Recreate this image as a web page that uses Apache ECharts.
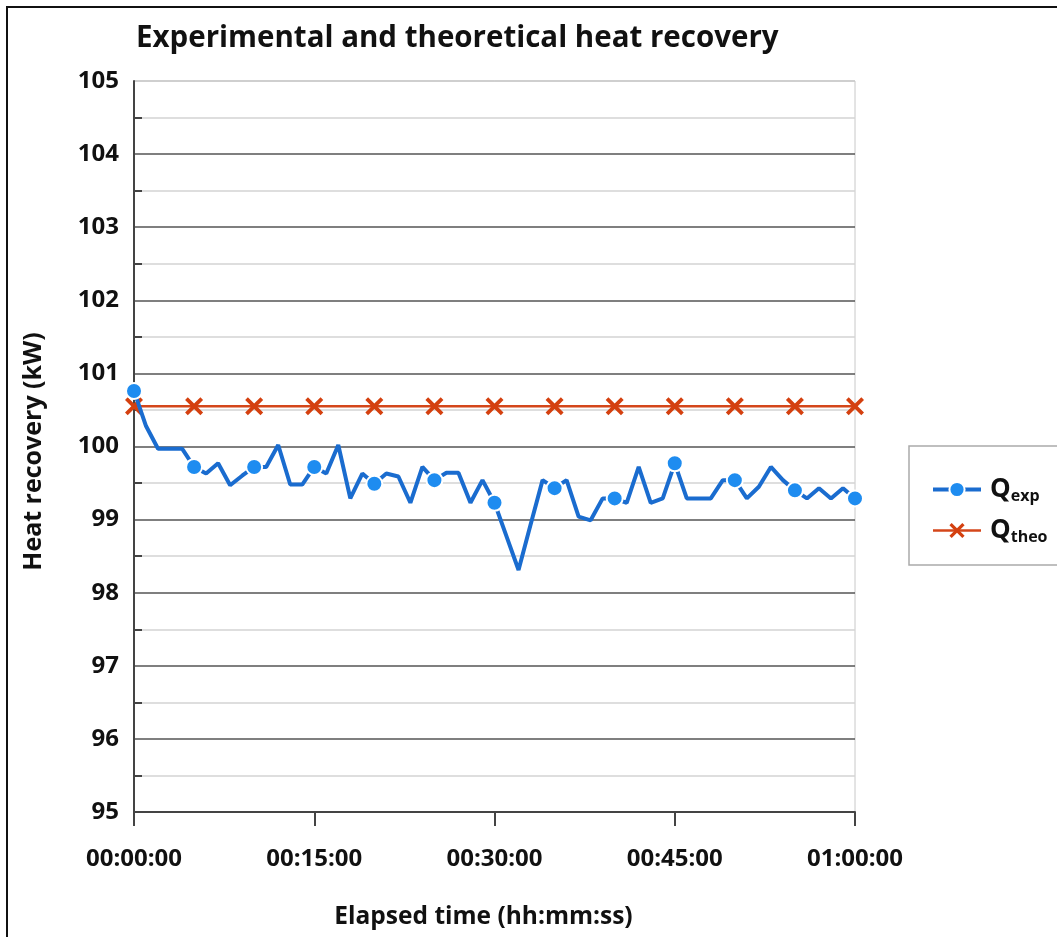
<!DOCTYPE html>
<html>
<head>
<meta charset="utf-8">
<script src="https://cdn.jsdelivr.net/npm/echarts@6/dist/echarts.min.js"></script>
<style>
  html, body { margin: 0; padding: 0; background: #fff; }
  #chart { width: 1057px; height: 937px; }
</style>
</head>
<body>
<div id="chart"></div>
<script>
// elapsed minutes and measured heat recovery (kW), one reading per minute
const minutes = [0, 1, 2, 3, 4, 5, 6, 7, 8, 9, 10, 11, 12, 13, 14, 15, 16, 17, 18, 19, 20,
  21, 22, 23, 24, 25, 26, 27, 28, 29, 30, 31, 32, 33, 34, 35, 36, 37, 38, 39, 40,
  41, 42, 43, 44, 45, 46, 47, 48, 49, 50, 51, 52, 53, 54, 55, 56, 57, 58, 59, 60];
const qExp = [100.76, 100.28, 99.97, 99.97, 99.97, 99.72, 99.63, 99.77, 99.47, 99.6, 99.72,
  99.72, 100.02, 99.48, 99.48, 99.72, 99.63, 100.02, 99.29, 99.63, 99.49,
  99.63, 99.59, 99.23, 99.72, 99.54, 99.64, 99.64, 99.23, 99.54, 99.23,
  98.77, 98.31, 98.93, 99.54, 99.43, 99.54, 99.04, 98.99, 99.29, 99.29,
  99.23, 99.72, 99.23, 99.29, 99.77, 99.29, 99.29, 99.29, 99.54, 99.54,
  99.29, 99.45, 99.72, 99.54, 99.40, 99.29, 99.43, 99.29, 99.43, 99.29];
// theoretical value, plotted every 5 minutes
const theoMinutes = [0, 5, 10, 15, 20, 25, 30, 35, 40, 45, 50, 55, 60];
const qTheo = [100.55, 100.55, 100.55, 100.55, 100.55, 100.55, 100.55, 100.55, 100.55, 100.55, 100.55, 100.55, 100.55];
const xTickLabels = ['00:00:00', '00:15:00', '00:30:00', '00:45:00', '01:00:00'];

const FONT = 'Open Sans';
const crossPath = 'path://M0,1.5L1.5,0L5,3.5L8.5,0L10,1.5L6.5,5L10,8.5L8.5,10L5,6.5L1.5,10L0,8.5L3.5,5Z';

const chart = echarts.init(document.getElementById('chart'));

// only every 5th reading gets a marker, like the original
const expData = minutes.map((m, i) => (i % 5 === 0 ? [m, qExp[i]] : { value: [m, qExp[i]], symbol: 'none' }));

chart.setOption({
  animation: false,
  textStyle: { fontFamily: FONT },
  title: {
    text: 'Experimental and theoretical heat recovery',
    left: 131,
    top: 19,
    textStyle: { fontFamily: FONT, fontSize: 29.5, fontWeight: 'bold', color: '#111' }
  },
  grid: {
    left: 134, right: 202, top: 81, bottom: 125,
    show: true, borderColor: '#c8c8c8', borderWidth: 1
  },
  legend: {
    orient: 'vertical',
    left: 926,
    top: 470,
    itemWidth: 48,
    itemHeight: 19,
    itemGap: 12,
    data: [
      { name: 'exp', lineStyle: { width: 4 } },
      { name: 'theo', lineStyle: { width: 2.5 } }
    ],
    formatter: n => '{q|Q}{s|' + n + '}',
    textStyle: {
      rich: {
        q: { fontFamily: FONT, fontSize: 26, fontWeight: 'bold', color: '#111', lineHeight: 28, padding: [0, 0, 0, 4] },
        s: { fontFamily: FONT, fontSize: 16, fontWeight: 'bold', color: '#111', padding: [13, 0, 0, 0], lineHeight: 28 }
      }
    }
  },
  xAxis: {
    type: 'value',
    min: 0, max: 60, interval: 15,
    name: 'Elapsed time (hh:mm:ss)',
    nameLocation: 'middle',
    nameGap: 93,
    nameTextStyle: { fontFamily: FONT, fontSize: 24.5, fontWeight: 'bold', color: '#111', padding: [0, 22, 0, 0] },
    axisLine: { lineStyle: { color: '#444', width: 2 } },
    axisTick: { show: true, inside: false, length: 14, lineStyle: { color: '#444', width: 2 } },
    axisLabel: {
      margin: 35,
      fontFamily: FONT, fontSize: 24, fontWeight: 'bold', color: '#111',
      formatter: v => xTickLabels[v / 15]
    },
    splitLine: { show: false }
  },
  yAxis: {
    type: 'value',
    min: 95, max: 105, interval: 1,
    name: 'Heat recovery (kW)',
    nameLocation: 'middle',
    nameGap: 88,
    nameTextStyle: { fontFamily: FONT, fontSize: 25, fontWeight: 'bold', color: '#111', padding: [0, 10, 0, 0] },
    axisLine: { show: true, lineStyle: { color: '#444', width: 2 } },
    axisTick: { show: false, inside: true },
    minorTick: { show: true, splitNumber: 2, length: 8, lineStyle: { color: '#444', width: 2 } },
    axisLabel: { margin: 15, fontFamily: FONT, fontSize: 24, fontWeight: 'bold', color: '#111' },
    splitLine: {
      show: true,
      lineStyle: {
        color: ['#555', '#555', '#555', '#555', '#555', '#555', '#555', '#555', '#555', '#555', '#c8c8c8'],
        width: 1.5
      }
    },
    minorSplitLine: { show: true, lineStyle: { color: '#d4d4d4', width: 1.5 } }
  },
  graphic: [
    {
      type: 'rect',
      shape: { x: 7, y: 7, width: 1200, height: 1100 },
      style: { fill: 'none', stroke: '#111', lineWidth: 2 },
      silent: true
    },
    {
      type: 'rect',
      shape: { x: 909, y: 446, width: 200, height: 119 },
      style: { fill: 'none', stroke: '#aaa', lineWidth: 1.5 },
      silent: true
    }
  ],
  series: [
    {
      name: 'exp',
      type: 'line',
      data: expData,
      symbol: 'circle',
      symbolSize: 16,
      showAllSymbol: true,
      lineStyle: { color: '#1a6ccf', width: 4 },
      itemStyle: { color: '#1e8cf0', borderColor: '#fff', borderWidth: 2 },
      z: 3
    },
    {
      name: 'theo',
      type: 'line',
      data: theoMinutes.map((m, i) => [m, qTheo[i]]),
      symbol: crossPath,
      symbolSize: 18,
      lineStyle: { color: '#d4461a', width: 2.5 },
      itemStyle: { color: '#d4400f' },
      z: 2
    }
  ]
});
</script>
</body>
</html>
